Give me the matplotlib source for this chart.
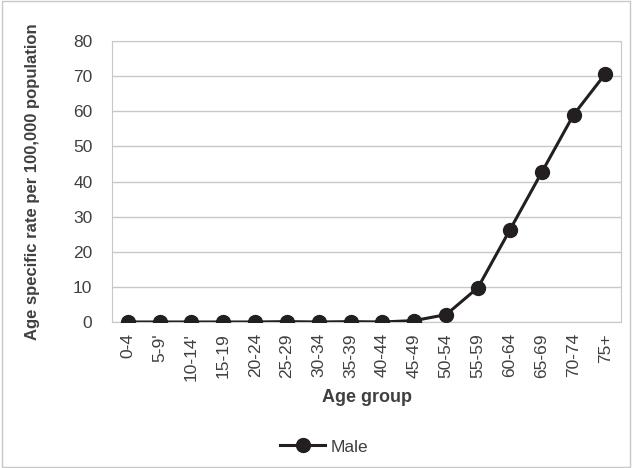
import matplotlib
matplotlib.use("Agg")
import matplotlib.pyplot as plt
import numpy as np

plt.rcParams['font.family'] = ['Liberation Sans Narrow', 'Liberation Sans', 'DejaVu Sans']

age_groups = ["0-4", "5-9'", "10-14'", "15-19", "20-24", "25-29", "30-34", "35-39",
              "40-44", "45-49", "50-54", "55-59", "60-64", "65-69", "70-74", "75+"]
male = [0.0, 0.0, 0.0, 0.0, 0.0, 0.1, 0.0, 0.1, 0.0, 0.4, 2.1, 9.8, 26.2, 42.6, 59.0, 70.7]
y_ticks = [0, 10, 20, 30, 40, 50, 60, 70, 80]

fig = plt.figure(figsize=(6.32, 4.68), dpi=100)
ax = fig.add_axes([0.177, 0.312, 0.806, 0.6])

x = np.arange(len(age_groups))
ax.plot(x, male, color="#231f20", lw=2.2, marker="o", ms=10, label="Male", zorder=3)

ax.set_xlim(-0.5, len(age_groups) - 0.5)
ax.set_ylim(0, 80)
ax.set_yticks(y_ticks)
ax.set_xticks(x)
ax.set_xticklabels(age_groups, rotation=90)
ax.tick_params(axis="both", length=0, labelsize=12.5, colors="#404040", pad=8)
ax.tick_params(axis="y", pad=14)
ax.grid(axis="y", color="#c8c8c8", lw=1)
ax.set_axisbelow(True)
for s in ax.spines.values():
    s.set_color("#c8c8c8")

ax.set_xlabel("Age group", fontsize=13, fontweight="bold", color="#404040", labelpad=6)
ax.set_ylabel("Age specific rate per 100,000 population", fontsize=12,
              fontweight="bold", color="#404040", labelpad=24)

fig.legend(loc="center", bbox_to_anchor=(0.513, 0.045), frameon=False, fontsize=12.5,
           handlelength=2.6, handletextpad=0.3, labelcolor="#404040")

fig.patches.append(plt.Rectangle((0.003, 0.003), 0.994, 0.994, transform=fig.transFigure,
                                 fill=False, ec="#c8c8c8", lw=1))

plt.savefig("out.png")
